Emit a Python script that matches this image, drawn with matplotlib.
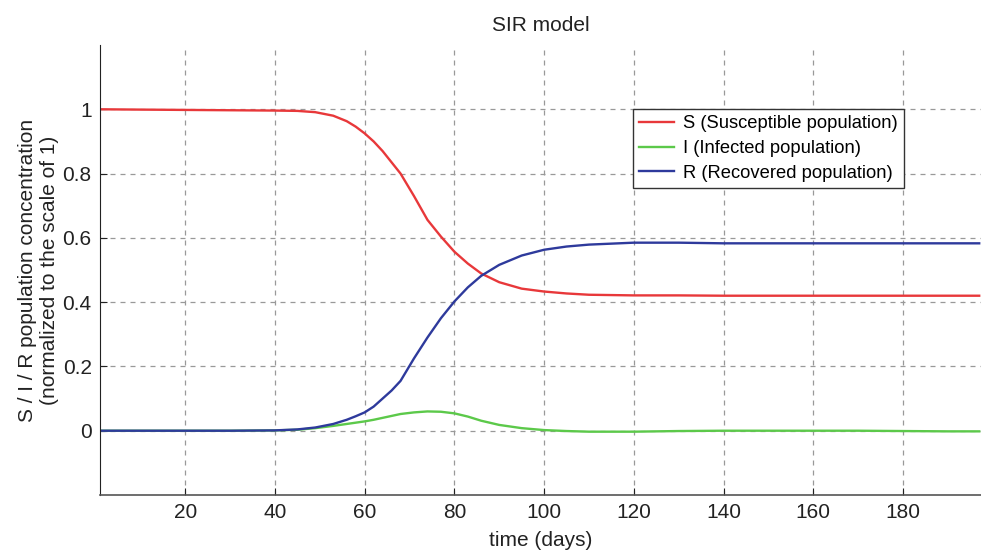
import numpy as np
import matplotlib
matplotlib.use("Agg")
import matplotlib.pyplot as plt

# values (days, fraction of population)
days = [1, 10, 20, 30, 40, 45, 49, 53, 56, 58, 60, 62, 64, 66, 68, 71, 74, 77,
        80, 83, 86, 90, 95, 100, 105, 110, 120, 130, 140, 150, 160, 170, 180,
        190, 197]
S = [1.0, 0.999, 0.998, 0.997, 0.996, 0.995, 0.991, 0.98, 0.963, 0.946, 0.925,
     0.9, 0.87, 0.835, 0.8, 0.73, 0.656, 0.604, 0.557, 0.52, 0.489, 0.462,
     0.442, 0.433, 0.427, 0.423, 0.421, 0.421, 0.42, 0.42, 0.42, 0.42, 0.42,
     0.42, 0.42]
I = [0.0, 0.0, 0.0, 0.0, 0.001, 0.003, 0.008, 0.015, 0.021, 0.025, 0.029,
     0.034, 0.04, 0.046, 0.052, 0.057, 0.06, 0.059, 0.054, 0.044, 0.031, 0.018,
     0.008, 0.002, -0.001, -0.003, -0.003, -0.001, 0.0, 0.0, 0.0, 0.0, -0.001,
     -0.002, -0.002]
R = [0.0, 0.0, 0.0, 0.0, 0.001, 0.004, 0.01, 0.021, 0.034, 0.045, 0.057,
     0.075, 0.1, 0.125, 0.155, 0.225, 0.29, 0.35, 0.402, 0.446, 0.482, 0.516,
     0.545, 0.563, 0.573, 0.579, 0.585, 0.585, 0.583, 0.583, 0.583, 0.583,
     0.583, 0.583, 0.583]
labels = ["S (Susceptible population)", "I (Infected population)",
          "R (Recovered population)"]
colors = ["#e8383a", "#5cc94a", "#2e3a9c"]

plt.rcParams["font.family"] = ["Liberation Sans", "DejaVu Sans"]

fig = plt.figure(figsize=(9.81, 5.51), dpi=100)
ax = fig.add_axes([100 / 981, 56 / 551, 1 - 100 / 981, 450 / 551])

for ys, lab, c in zip([S, I, R], labels, colors):
    ax.plot(days, ys, color=c, lw=1.7, label=lab, solid_joinstyle="round")

ax.set_xlim(1, 197.4)
ax.set_ylim(-0.2, 1.2)
ax.set_xticks([20, 40, 60, 80, 100, 120, 140, 160, 180])
ax.set_yticks([0, 0.2, 0.4, 0.6, 0.8, 1.0])
ax.set_yticklabels(["0", "0.2", "0.4", "0.6", "0.8", "1"])
ax.grid(True, ls=(0, (4, 4)), color="#999999", lw=0.9)
ax.tick_params(direction="in", length=5, labelsize=15, colors="#222222", pad=6)
for s in ["top", "right"]:
    ax.spines[s].set_visible(False)
ax.spines["left"].set_color("#222222")
ax.spines["bottom"].set_color("#555555")
ax.spines["bottom"].set_linewidth(1.2)

ax.set_title("SIR model", fontsize=15, color="#222222", pad=10)
ax.set_xlabel("time (days)", fontsize=15, color="#222222", labelpad=6)
ax.set_ylabel("S / I / R population concentration\n(normalized to the scale of 1)",
              fontsize=15, color="#222222")
ax.yaxis.set_label_coords(-0.047, 0.5)

leg = ax.legend(loc="upper right", bbox_to_anchor=(904 / 981, 1 - 109 / 551),
                bbox_transform=fig.transFigure, fontsize=13.2, fancybox=False,
                framealpha=1, edgecolor="#333333", handlelength=1.9,
                handletextpad=0.5, borderaxespad=0, labelspacing=0.42,
                borderpad=0.34)
leg.get_frame().set_linewidth(1.0)

fig.savefig("out.png", dpi=100)
